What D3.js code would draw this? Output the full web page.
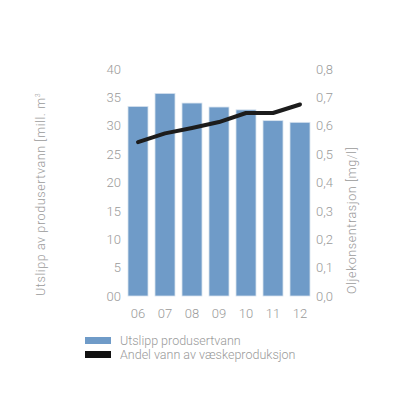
<!DOCTYPE html>
<html>
<head>
<meta charset="utf-8">
<script src="https://cdn.jsdelivr.net/npm/d3@7"></script>
<style>
  body { margin: 0; background: #fff; }
  text { font-family: Roboto, "Noto Sans", sans-serif; font-weight: 300; fill: #9a9a9a; }
</style>
</head>
<body>
<div id="chart"></div>
<script>
// chart data
var years = ["06", "07", "08", "09", "10", "11", "12"];
var utslipp = [33.4, 35.7, 34.0, 33.3, 32.8, 30.9, 30.6];
var andel = [0.542, 0.573, 0.592, 0.613, 0.645, 0.645, 0.675];
var leftTicks = [0, 5, 10, 15, 20, 25, 30, 35, 40];
var leftTickLabels = ["00", "5", "10", "15", "20", "25", "30", "35", "40"];
var rightTicks = [0, 0.1, 0.2, 0.3, 0.4, 0.5, 0.6, 0.7, 0.8];
var legendLabels = ["Utslipp produsertvann", "Andel vann av væskeproduksjon"];

var svgWidth = 400;
var svgHeight = 400;

var svg = d3.select("#chart")
    .append("svg")
    .attr("width", svgWidth)
    .attr("height", svgHeight);

// scales
var xScale = d3.scaleBand()
    .domain(years)
    .range([124.5, 313.5])
    .paddingInner(0.26)
    .paddingOuter(0.13);

var yLeft = d3.scaleLinear()
    .domain([0, 40])
    .range([296, 69]);

var yRight = d3.scaleLinear()
    .domain([0, 0.8])
    .range([296, 69]);

// left axis
var leftAxis = d3.axisLeft(yLeft)
    .tickValues(leftTicks)
    .tickSize(0)
    .tickPadding(0)
    .tickFormat((d, i) => leftTickLabels[i]);

svg.append("g")
    .attr("transform", "translate(121, 0)")
    .call(leftAxis)
    .call(g => g.select(".domain").remove())
    .selectAll("text")
    .attr("font-size", "13px")
    .attr("fill", "#9a9a9a");

// right axis
var rightAxis = d3.axisRight(yRight)
    .tickValues(rightTicks)
    .tickSize(0)
    .tickPadding(0)
    .tickFormat(d => d3.format(".1f")(d).replace(".", ","));

svg.append("g")
    .attr("transform", "translate(316, 0)")
    .call(rightAxis)
    .call(g => g.select(".domain").remove())
    .selectAll("text")
    .attr("font-size", "13px")
    .attr("fill", "#9a9a9a");

// bottom axis
var bottomAxis = d3.axisBottom(xScale)
    .tickSize(0)
    .tickPadding(0);

svg.append("g")
    .attr("transform", "translate(0, 309)")
    .call(bottomAxis)
    .call(g => g.select(".domain").remove())
    .selectAll("text")
    .attr("font-size", "13px")
    .attr("fill", "#9a9a9a");

// bars
svg.selectAll("rect.bar")
    .data(utslipp)
    .enter()
    .append("rect")
    .attr("class", "bar")
    .attr("x", (d, i) => xScale(years[i]))
    .attr("y", d => yLeft(d))
    .attr("width", xScale.bandwidth())
    .attr("height", d => yLeft(0) - yLeft(d))
    .attr("fill", "#6f9bc8")
    .attr("stroke", "#d6e2ee")
    .attr("stroke-width", 0.8);

// line
var line = d3.line()
    .x((d, i) => xScale(years[i]) + xScale.bandwidth() / 2)
    .y(d => yRight(d));

svg.append("path")
    .datum(andel)
    .attr("d", line)
    .attr("fill", "none")
    .attr("stroke", "#1c1c1c")
    .attr("stroke-width", 4)
    .attr("stroke-linecap", "round")
    .attr("stroke-linejoin", "round");

// axis titles
svg.append("text")
    .attr("transform", "translate(45, 296) rotate(-90)")
    .attr("font-size", "12.5px")
    .attr("letter-spacing", "0.6px")
    .text("Utslipp av produsertvann [mill. m")
    .append("tspan")
    .attr("dy", "-5")
    .attr("font-size", "7px")
    .text("3");

svg.append("text")
    .attr("transform", "translate(356, 294) rotate(-90)")
    .attr("font-size", "12.5px")
    .attr("letter-spacing", "0.6px")
    .text("Oljekonsentrasjon [mg/l]");

// legend
var legendColors = ["#6f9bc8", "#111111"];
var legend = svg.selectAll("g.legend")
    .data(legendLabels)
    .enter()
    .append("g")
    .attr("class", "legend")
    .attr("transform", (d, i) => `translate(85, ${337 + i * 14})`);

legend.append("rect")
    .attr("width", 26)
    .attr("height", 7)
    .attr("fill", (d, i) => legendColors[i]);

legend.append("text")
    .attr("x", 35)
    .attr("y", 4)
    .attr("dy", "0.35em")
    .attr("font-size", "12.5px")
    .text(d => d);
</script>
</body>
</html>
